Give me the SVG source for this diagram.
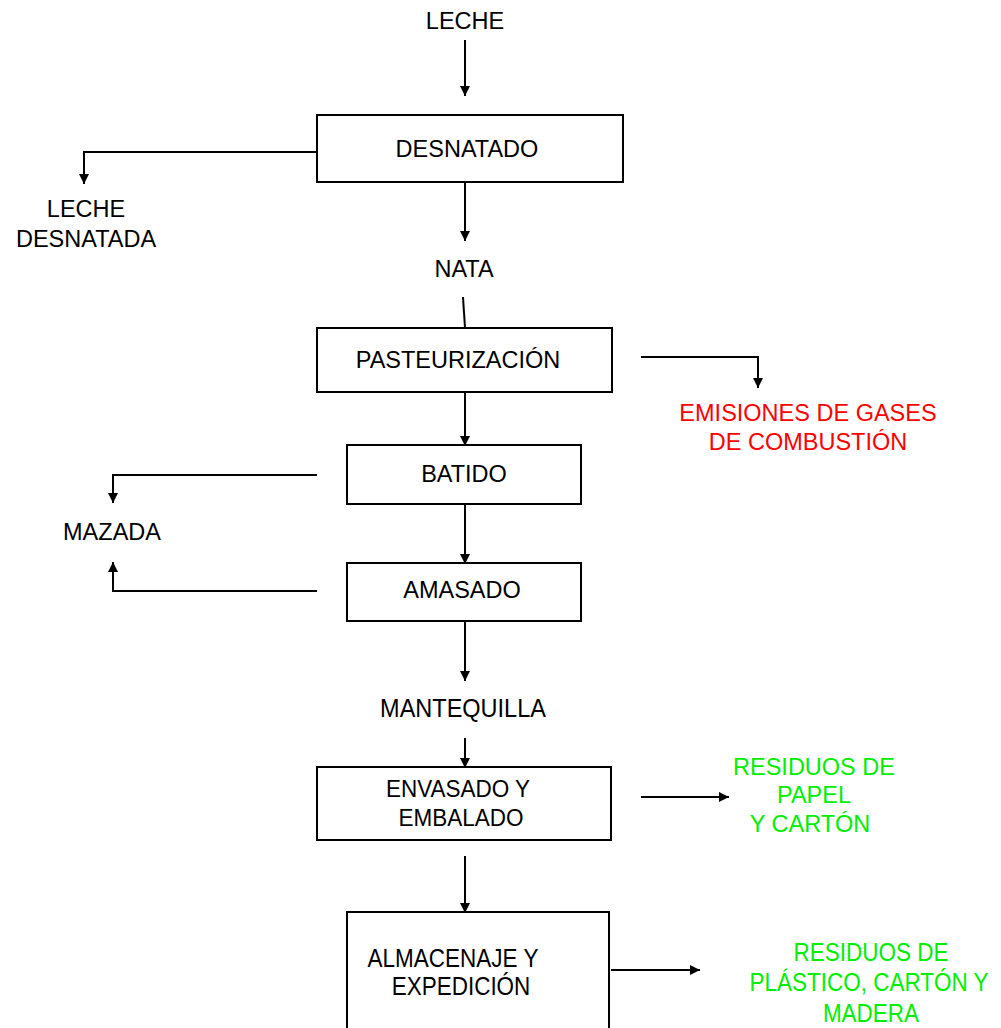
<svg xmlns="http://www.w3.org/2000/svg" width="1001" height="1028" viewBox="0 0 1001 1028">
  <style>
    .box { fill: #ffffff; stroke: #000000; stroke-width: 2; }
    .lbl { font-family: "Liberation Sans", Arial, sans-serif; font-size: 23.5px; text-anchor: middle; fill: #000000; }
    .tall { font-size: 22.5px; }
    .red { fill: #ff0000; }
    .green { fill: #00ee00; }
    .wire { fill: none; stroke: #000000; stroke-width: 2; }
    .arr { marker-end: url(#head); }
  </style>
  <defs>
    <marker id="head" markerUnits="userSpaceOnUse" markerWidth="10" markerHeight="10" refX="10" refY="5" orient="auto">
      <path d="M0,0 L10,5 L0,10 z" fill="#000000"/>
    </marker>
  </defs>

  <rect width="1001" height="1028" fill="#ffffff"/>

  <!-- connectors -->
  <g id="connectors">
    <line class="wire arr" x1="465" y1="40" x2="465" y2="96"/>
    <polyline class="wire arr" points="317,152 84,152 84,184"/>
    <line class="wire arr" x1="465" y1="182" x2="465" y2="241"/>
    <line class="wire" x1="463" y1="297" x2="465" y2="328"/>
    <polyline class="wire arr" points="641,357 758,357 758,388"/>
    <line class="wire arr" x1="465" y1="392" x2="465" y2="446"/>
    <polyline class="wire arr" points="317,475 113,475 113,503"/>
    <polyline class="wire arr" points="317,591 113,591 113,562"/>
    <line class="wire arr" x1="465" y1="504" x2="465" y2="564"/>
    <line class="wire arr" x1="465" y1="621" x2="465" y2="681"/>
    <line class="wire arr" x1="465" y1="738" x2="465" y2="768"/>
    <line class="wire arr" x1="641" y1="797" x2="729" y2="797"/>
    <line class="wire arr" x1="465" y1="856" x2="465" y2="913"/>
    <line class="wire arr" x1="611" y1="970" x2="700" y2="970"/>
  </g>

  <!-- flow labels -->
  <g id="leche">
    <text class="lbl" x="465" y="29">LECHE</text>
  </g>
  <g id="leche-desnatada">
    <text class="lbl" x="86" y="217">LECHE</text>
    <text class="lbl" x="86" y="247">DESNATADA</text>
  </g>
  <g id="nata">
    <text class="lbl" x="464" y="277">NATA</text>
  </g>
  <g id="emisiones">
    <text class="lbl red" x="808" y="421">EMISIONES DE GASES</text>
    <text class="lbl red" x="808" y="450">DE COMBUSTIÓN</text>
  </g>
  <g id="mazada">
    <text class="lbl" x="112" y="540">MAZADA</text>
  </g>
  <g id="mantequilla">
    <text class="lbl" transform="translate(463,717) scale(1,1.06)">MANTEQUILLA</text>
  </g>
  <g id="residuos-papel">
    <text class="lbl green" x="814" y="775">RESIDUOS DE</text>
    <text class="lbl green" x="814" y="803">PAPEL</text>
    <text class="lbl green" x="810" y="832">Y CARTÓN</text>
  </g>
  <g id="residuos-plastico">
    <text class="lbl tall green" transform="translate(871,961) scale(1,1.12)">RESIDUOS DE</text>
    <text class="lbl tall green" transform="translate(869,991) scale(1,1.12)">PLÁSTICO, CARTÓN Y</text>
    <text class="lbl tall green" transform="translate(871,1022) scale(1,1.12)">MADERA</text>
  </g>

  <!-- process steps -->
  <g id="desnatado">
    <rect class="box" x="317" y="115" width="306" height="67"/>
    <text class="lbl" x="467" y="157">DESNATADO</text>
  </g>
  <g id="pasteurizacion">
    <rect class="box" x="317" y="328" width="295" height="64"/>
    <text class="lbl" x="458" y="368">PASTEURIZACIÓN</text>
  </g>
  <g id="batido">
    <rect class="box" x="347" y="445" width="234" height="59"/>
    <text class="lbl" x="464" y="482">BATIDO</text>
  </g>
  <g id="amasado">
    <rect class="box" x="347" y="563" width="234" height="58"/>
    <text class="lbl" x="462" y="598">AMASADO</text>
  </g>
  <g id="envasado">
    <rect class="box" x="317" y="767" width="294" height="73"/>
    <text class="lbl tall" transform="translate(458,797) scale(1,1.06)">ENVASADO Y</text>
    <text class="lbl tall" transform="translate(461,826) scale(1,1.06)">EMBALADO</text>
  </g>
  <g id="almacenaje">
    <rect class="box" x="347" y="912" width="262" height="130"/>
    <text class="lbl tall" transform="translate(453,967) scale(1,1.12)">ALMACENAJE Y</text>
    <text class="lbl tall" transform="translate(461,995) scale(1,1.12)">EXPEDICIÓN</text>
  </g>
</svg>
